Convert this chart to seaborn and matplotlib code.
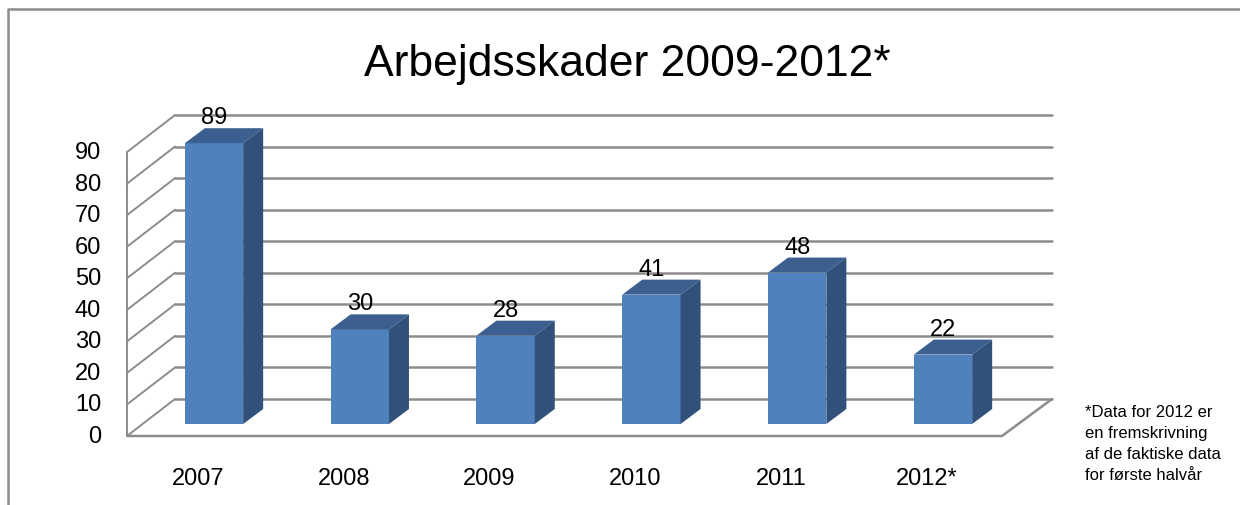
import numpy as np
import pandas as pd
import matplotlib
matplotlib.use('Agg')
from matplotlib import pyplot as plt
from matplotlib.patches import Polygon
from matplotlib.lines import Line2D
import seaborn as sns

#%% data
years = ['2007', '2008', '2009', '2010', '2011', '2012*']
injuries = [89, 30, 28, 41, 48, 22]
y_ticks = [0, 10, 20, 30, 40, 50, 60, 70, 80, 90]
title = 'Arbejdsskader 2009-2012*'
footnote = '*Data for 2012 er\nen fremskrivning\naf de faktiske data\nfor første halvår'

sns.set_style('white')
plt.rcParams['font.family'] = ['Liberation Sans', 'DejaVu Sans']
plt.rcParams['text.color'] = 'black'

W, H = 1240, 506
fig = plt.figure(figsize=(W / 100, H / 100), dpi=100)
ax = fig.add_axes([0, 0, 1, 1])

# pixel layout of the fake 3d box
X0, DX = 214, 145.8   # front centre of first bar, slot width (px)
Y0, DY = 425, 3.155   # bar base (px), px per unit

def px(x):
    return (x - X0) / DX

def py(y):
    return (Y0 - y) / DY

front_col, top_col, side_col = '#4F81BD', '#3B5F8E', '#31507A'
grid_col = '#8C8C8C'

books = pd.DataFrame({'year': years, 'n': injuries})
sns.barplot(data=books, x='year', y='n', color=front_col, saturation=1,
            width=0.4, ax=ax, zorder=3, linewidth=0)

ax.set_xlim(px(0), px(W))
ax.set_ylim(py(H), py(0))
ax.axis('off')

# walls and floor
front0, back0 = py(437), py(400)
xl_f, xl_b = px(127), px(175)
xr_f, xr_b = px(1002), px(1052)
for v in y_ticks:
    ax.plot([xl_b, xr_b], [back0 + v, back0 + v], color=grid_col, lw=1.8, zorder=1)
    ax.plot([xl_f, xl_b], [front0 + v, back0 + v], color=grid_col, lw=1.4, zorder=1)
    ax.text(px(101), front0 + v, str(v), ha='right', va='center', fontsize=17)
ax.plot([xl_f, xl_f], [front0, front0 + 90], color=grid_col, lw=1.4, zorder=1)
ax.plot([xl_f, xr_f, xr_b], [front0, front0, back0], color=grid_col, lw=1.8, zorder=1)

# top and side faces
w = 0.4
bdx, bdy = 20 / DX, 15 / DY
for i, v in enumerate(injuries):
    l, r = i - w / 2, i + w / 2
    ax.add_patch(Polygon([(l, v), (r, v), (r + bdx, v + bdy), (l + bdx, v + bdy)],
                         closed=True, facecolor=top_col, edgecolor='none', zorder=3))
    ax.add_patch(Polygon([(r, 0), (r, v), (r + bdx, v + bdy), (r + bdx, bdy)],
                         closed=True, facecolor=side_col, edgecolor='none', zorder=3))
    ax.text(i, v + 8.2, str(v), ha='center', va='center', fontsize=17, zorder=4)
    ax.text(i - 16 / DX, py(479), years[i], ha='center', va='center', fontsize=17)

fig.text(627 / W, 1 - 76 / H, title, ha='center', va='baseline', fontsize=32)
fig.text(1085 / W, 1 - 405 / H, footnote, ha='left', va='top', fontsize=12,
         linespacing=1.5)

# chart frame
fig.add_artist(Line2D([8 / W, 8 / W, 1], [0, 1 - 10 / H, 1 - 10 / H],
                      color=grid_col, lw=1.8))

fig.savefig('out.png', dpi=100)
